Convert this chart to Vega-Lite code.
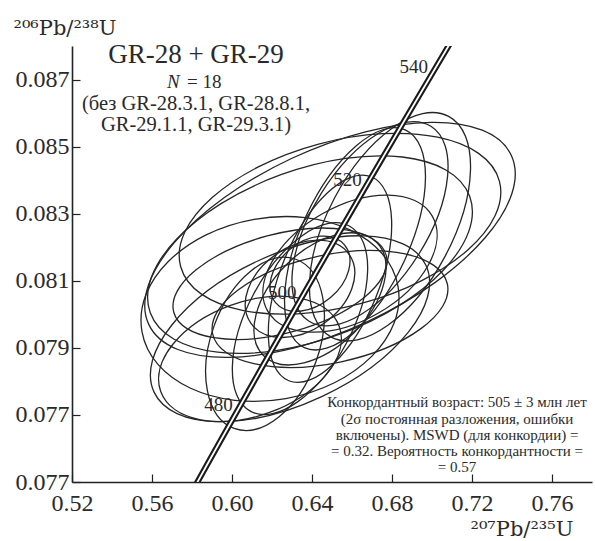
{
  "$schema": "https://vega.github.io/schema/vega-lite/v6.json",
  "width": 520,
  "height": 436,
  "autosize": {"type": "none"},
  "padding": {"left": 72, "top": 46, "right": 3, "bottom": 59},
  "config": {"view": {"stroke": null}, "font": "Liberation Serif"},
  "datasets": {
    "ellipses": [
      {"x": 0.649, "y": 0.08222, "len": 0.200, "ratio": 0.45, "tilt": 25},
      {"x": 0.639, "y": 0.08178, "len": 0.170, "ratio": 0.5, "tilt": 20},
      {"x": 0.654, "y": 0.08270, "len": 0.165, "ratio": 0.5, "tilt": 15},
      {"x": 0.629, "y": 0.07957, "len": 0.150, "ratio": 0.5, "tilt": 25},
      {"x": 0.619, "y": 0.08016, "len": 0.130, "ratio": 0.7, "tilt": 10},
      {"x": 0.679, "y": 0.08261, "len": 0.125, "ratio": 0.5, "tilt": 62},
      {"x": 0.669, "y": 0.08270, "len": 0.115, "ratio": 0.5, "tilt": 58},
      {"x": 0.6615, "y": 0.08225, "len": 0.120, "ratio": 0.45, "tilt": 65},
      {"x": 0.649, "y": 0.08106, "len": 0.110, "ratio": 0.45, "tilt": 68},
      {"x": 0.634, "y": 0.07987, "len": 0.105, "ratio": 0.5, "tilt": 62},
      {"x": 0.6165, "y": 0.07912, "len": 0.090, "ratio": 0.6, "tilt": 70},
      {"x": 0.634, "y": 0.08076, "len": 0.060, "ratio": 0.7, "tilt": 35},
      {"x": 0.639, "y": 0.08121, "len": 0.045, "ratio": 0.7, "tilt": 40},
      {"x": 0.644, "y": 0.08046, "len": 0.080, "ratio": 0.6, "tilt": 45},
      {"x": 0.659, "y": 0.08151, "len": 0.095, "ratio": 0.6, "tilt": 30},
      {"x": 0.624, "y": 0.08091, "len": 0.110, "ratio": 0.45, "tilt": 15},
      {"x": 0.649, "y": 0.08016, "len": 0.120, "ratio": 0.45, "tilt": 12},
      {"x": 0.609, "y": 0.07867, "len": 0.095, "ratio": 0.6, "tilt": 20}
    ],
    "concordia": [
      {"age": 460, "x": 0.57307, "y": 0.073965},
      {"age": 470, "x": 0.58864, "y": 0.075633},
      {"age": 480, "x": 0.60437, "y": 0.077302},
      {"age": 490, "x": 0.62024, "y": 0.078975},
      {"age": 500, "x": 0.63628, "y": 0.080650},
      {"age": 510, "x": 0.65247, "y": 0.082327},
      {"age": 520, "x": 0.66883, "y": 0.084008},
      {"age": 530, "x": 0.68535, "y": 0.085691},
      {"age": 540, "x": 0.70203, "y": 0.087376},
      {"age": 550, "x": 0.71887, "y": 0.089064}
    ],
    "title": [{"text": "GR-28 + GR-29", "x": 0.582, "y": 0.087507}],
    "excluded": [
      {"text": "(без GR-28.3.1, GR-28.8.1,", "x": 0.582, "y": 0.086104},
      {"text": "GR-29.1.1, GR-29.3.1)", "x": 0.582, "y": 0.085478}
    ],
    "nsym": [{"text": "N", "x": 0.5675, "y": 0.086761}],
    "ncount": [{"text": "= 18", "x": 0.5775, "y": 0.086761}],
    "result": [
      {"text": "Конкордантный возраст: 505 ± 3 млн лет", "x": 0.7125, "y": 0.077224},
      {"text": "(2σ постоянная разложения, ошибки", "x": 0.7125, "y": 0.076740},
      {"text": "включены). MSWD (для конкордии) =", "x": 0.7125, "y": 0.076257},
      {"text": "= 0.32. Вероятность конкордантности =", "x": 0.7125, "y": 0.075773},
      {"text": "= 0.57", "x": 0.7125, "y": 0.075290}
    ]
  },
  "encoding": {
    "x": {
      "field": "x", "type": "quantitative",
      "scale": {"domain": [0.52, 0.78], "nice": false, "zero": false},
      "axis": {
        "values": [0.52, 0.56, 0.60, 0.64, 0.68, 0.72, 0.76],
        "format": ".2f", "grid": false,
        "tickSize": -8, "tickColor": "#222", "tickWidth": 1.2,
        "domainColor": "#222", "domainWidth": 1.6,
        "labelFontSize": 24, "labelColor": "#2a2a2a", "labelPadding": 17,
        "labelFlush": false, "labelOverlap": false,
        "title": "²⁰⁷Pb/²³⁵U", "titleFont": "DejaVu Serif", "titleFontSize": 21, "titleFontWeight": "normal",
        "titleColor": "#2a2a2a", "titleAngle": 0, "titleAlign": "left",
        "titleBaseline": "alphabetic", "titleX": 398, "titleY": 53
      }
    },
    "y": {
      "field": "y", "type": "quantitative",
      "scale": {"domain": [0.075, 0.088], "nice": false, "zero": false},
      "axis": {
        "values": [0.075, 0.077, 0.079, 0.081, 0.083, 0.085, 0.087],
        "labelExpr": "datum.value < 0.076 ? '0.077' : format(datum.value, '.3f')",
        "grid": false,
        "tickSize": -8, "tickColor": "#222", "tickWidth": 1.2,
        "domainColor": "#222", "domainWidth": 1.6,
        "labelFontSize": 24, "labelColor": "#2a2a2a", "labelPadding": 11,
        "labelFlush": false, "labelOverlap": false,
        "title": "²⁰⁶Pb/²³⁸U", "titleFont": "DejaVu Serif", "titleFontSize": 21, "titleFontWeight": "normal",
        "titleColor": "#2a2a2a", "titleAngle": 0, "titleAlign": "left",
        "titleBaseline": "alphabetic", "titleX": -59, "titleY": -12
      }
    }
  },
  "layer": [
    {
      "data": {"name": "ellipses"},
      "mark": {"type": "point", "filled": false, "stroke": "#262626", "strokeWidth": 1.3, "opacity": 1},
      "encoding": {
        "size": {"field": "len", "type": "quantitative", "scale": {"type": "pow", "exponent": 2, "domain": [0, 0.2], "range": [0, 160000]}, "legend": null},
        "angle": {"field": "tilt", "type": "quantitative", "scale": {"domain": [0, 90], "range": [360, 270]}, "legend": null},
        "shape": {
          "field": "ratio", "type": "nominal", "legend": null,
          "scale": {
            "domain": [0.45, 0.5, 0.6, 0.7],
            "range": [
              "M1,0C1,0.2485,0.5523,0.45,0,0.45C-0.5523,0.45,-1,0.2485,-1,0C-1,-0.2485,-0.5523,-0.45,0,-0.45C0.5523,-0.45,1,-0.2485,1,0Z",
              "M1,0C1,0.2762,0.5523,0.5,0,0.5C-0.5523,0.5,-1,0.2762,-1,0C-1,-0.2762,-0.5523,-0.5,0,-0.5C0.5523,-0.5,1,-0.2762,1,0Z",
              "M1,0C1,0.3314,0.5523,0.6,0,0.6C-0.5523,0.6,-1,0.3314,-1,0C-1,-0.3314,-0.5523,-0.6,0,-0.6C0.5523,-0.6,1,-0.3314,1,0Z",
              "M1,0C1,0.3866,0.5523,0.7,0,0.7C-0.5523,0.7,-1,0.3866,-1,0C-1,-0.3866,-0.5523,-0.7,0,-0.7C0.5523,-0.7,1,-0.3866,1,0Z"
            ]
          }
        }
      }
    },
    {
      "data": {"name": "concordia"},
      "mark": {"type": "line", "stroke": "#1a1a1a", "strokeWidth": 6, "clip": true},
      "encoding": {"order": {"field": "age", "type": "quantitative"}}
    },
    {
      "data": {"name": "concordia"},
      "mark": {"type": "line", "stroke": "white", "strokeWidth": 1.8, "clip": true},
      "encoding": {"order": {"field": "age", "type": "quantitative"}}
    },
    {
      "data": {"name": "concordia"},
      "transform": [{"filter": "datum.age >= 480 && datum.age <= 540 && datum.age % 20 == 0"}],
      "mark": {"type": "text", "align": "right", "baseline": "middle", "dx": -8, "fontSize": 19, "color": "#2a2a2a"},
      "encoding": {"text": {"field": "age", "type": "quantitative"}}
    },
    {
      "data": {"name": "title"},
      "mark": {"type": "text", "align": "center", "baseline": "alphabetic", "fontSize": 27, "color": "#2a2a2a"},
      "encoding": {"text": {"field": "text"}}
    },
    {
      "data": {"name": "excluded"},
      "mark": {"type": "text", "align": "center", "baseline": "alphabetic", "fontSize": 20.5, "color": "#2a2a2a"},
      "encoding": {"text": {"field": "text"}}
    },
    {
      "data": {"name": "nsym"},
      "mark": {"type": "text", "align": "left", "baseline": "alphabetic", "fontSize": 19, "fontStyle": "italic", "color": "#2a2a2a"},
      "encoding": {"text": {"field": "text"}}
    },
    {
      "data": {"name": "ncount"},
      "mark": {"type": "text", "align": "left", "baseline": "alphabetic", "fontSize": 19, "color": "#2a2a2a"},
      "encoding": {"text": {"field": "text"}}
    },
    {
      "data": {"name": "result"},
      "mark": {"type": "text", "align": "center", "baseline": "alphabetic", "fontSize": 15, "color": "#2a2a2a"},
      "encoding": {"text": {"field": "text"}}
    }
  ]
}
